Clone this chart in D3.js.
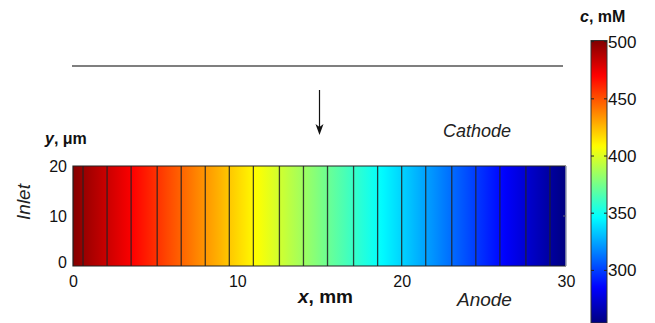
<!DOCTYPE html>
<html>
<head>
<meta charset="utf-8">
<script src="https://cdn.jsdelivr.net/npm/d3@7"></script>
<style>
  html, body { margin: 0; padding: 0; background: #fff; }
  svg { display: block; font-family: "Liberation Sans", Arial, Helvetica, sans-serif; }
</style>
</head>
<body>
<svg id="chart" width="655" height="323"></svg>
<script>
// ---- data ----
const xPoints = [0, 5, 10, 15, 20, 25, 30];            // x, mm
const cValues = [500, 459, 418, 377, 336, 295, 254];   // c, mM along channel
const contourLevels = [495, 483, 471, 458, 446, 434, 422, 410, 397, 385,
                       373, 360, 348, 336, 324, 311, 299, 287, 274, 262];
const xTicks = [0, 10, 20, 30];
const yTicks = [0, 10, 20];
const cTicks = [300, 350, 400, 450, 500];
const cMin = 254, cMax = 501;
const jetFractions = [0, 0.125, 0.375, 0.625, 0.875, 1];
const jetColors = ["#000080", "#0000ff", "#00ffff", "#ffff00", "#ff0000", "#800000"];

const svg = d3.select("#chart");
const font = '"Liberation Sans", Arial, Helvetica, sans-serif';

// ---- scales ----
const x = d3.scaleLinear().domain([0, 30]).range([73, 566]);
const y = d3.scaleLinear().domain([0, 20]).range([266, 166]);
const cAtX = d3.scaleLinear().domain(xPoints).range(cValues);
const xAtC = d3.scaleLinear().domain(cValues).range(xPoints);
const color = d3.scaleLinear()
  .domain(jetFractions.map(f => cMin + f * (cMax - cMin)))
  .range(jetColors)
  .interpolate(d3.interpolateRgb)
  .clamp(true);
const cb = d3.scaleLinear().domain([cMin, cMax]).range([323, 40.5]);

const defs = svg.append("defs");

// field gradient (horizontal)
const fg = defs.append("linearGradient").attr("id", "fieldGrad")
  .attr("x1", "0%").attr("x2", "100%").attr("y1", "0%").attr("y2", "0%");
d3.range(0, 101).forEach(i => {
  const xv = 30 * i / 100;
  fg.append("stop").attr("offset", i + "%").attr("stop-color", color(cAtX(xv)));
});

// colorbar gradient (vertical)
const cg = defs.append("linearGradient").attr("id", "cbGrad")
  .attr("x1", "0%").attr("x2", "0%").attr("y1", "0%").attr("y2", "100%");
d3.range(0, 101).forEach(i => {
  const v = cMax - (cMax - cMin) * i / 100;
  cg.append("stop").attr("offset", i + "%").attr("stop-color", color(v));
});

// ---- top electrode line ----
svg.append("line")
  .attr("x1", x(0) - 1).attr("x2", x(30) - 3)
  .attr("y1", 66).attr("y2", 66)
  .attr("stroke", "#555").attr("stroke-width", 1.6);

// ---- arrow ----
const ax = x(15);
svg.append("line").attr("x1", ax).attr("x2", ax).attr("y1", 90).attr("y2", 128)
  .attr("stroke", "#111").attr("stroke-width", 1.2);
svg.append("path")
  .attr("d", `M${ax - 4},${124} L${ax},${135} L${ax + 4},${124} L${ax},${127} Z`)
  .attr("fill", "#111");

// ---- field ----
svg.append("rect")
  .attr("x", x(0)).attr("y", y(20))
  .attr("width", x(30) - x(0)).attr("height", y(0) - y(20))
  .attr("fill", "url(#fieldGrad)");

// contour lines
svg.append("g").selectAll("line").data(contourLevels).join("line")
  .attr("x1", d => x(xAtC(d))).attr("x2", d => x(xAtC(d)))
  .attr("y1", y(20)).attr("y2", y(0))
  .attr("stroke", "#222").attr("stroke-opacity", 0.85).attr("stroke-width", 1.3);

// box
svg.append("path")
  .attr("d", `M${x(30)},${y(20)} H${x(0)} V${y(0)} H${x(30)}`)
  .attr("fill", "none").attr("stroke", "#222").attr("stroke-width", 1.2);
svg.append("line")
  .attr("x1", x(30)).attr("x2", x(30)).attr("y1", y(20)).attr("y2", y(0))
  .attr("stroke", "#9aa0b0").attr("stroke-width", 1.5);
// small inner ticks on right edge
svg.append("g").selectAll("line").data([10]).join("line")
  .attr("x1", x(30) - 3).attr("x2", x(30)).attr("y1", d => y(d)).attr("y2", d => y(d))
  .attr("stroke", "#667").attr("stroke-width", 1);

// ---- axes ----
const xAxis = svg.append("g").attr("transform", `translate(0,${y(0)})`)
  .call(d3.axisBottom(x).tickValues(xTicks).tickSize(0).tickPadding(10).tickFormat(d3.format("d")));
xAxis.select(".domain").remove();
xAxis.selectAll("text").attr("font-size", 16).attr("font-family", font).attr("fill", "#111");

const yAxis = svg.append("g").attr("transform", `translate(${x(0)},0)`)
  .call(d3.axisLeft(y).tickValues(yTicks).tickSize(0).tickPadding(6).tickFormat(d3.format("d")));
yAxis.select(".domain").remove();
yAxis.selectAll("text").attr("font-size", 16).attr("font-family", font).attr("fill", "#111");
yAxis.selectAll(".tick").filter(d => d === 0).select("text").attr("dy", "0.1em");

// ---- labels ----
const yl = svg.append("text").attr("x", 45).attr("y", 144)
  .attr("font-size", 16).attr("font-weight", "bold").attr("fill", "#111");
yl.append("tspan").attr("font-style", "italic").text("y");
yl.append("tspan").text(", μm");

const xl = svg.append("text").attr("x", 298).attr("y", 303)
  .attr("font-size", 19).attr("font-weight", "bold").attr("fill", "#111");
xl.append("tspan").attr("font-style", "italic").text("x");
xl.append("tspan").text(", mm");

svg.append("text").attr("transform", "translate(30,202) rotate(-90)")
  .attr("text-anchor", "middle").attr("font-size", 19).attr("font-style", "italic")
  .attr("fill", "#222").text("Inlet");

svg.append("text").attr("x", 443).attr("y", 137)
  .attr("font-size", 18).attr("font-style", "italic").attr("fill", "#222").text("Cathode");

svg.append("text").attr("x", 457).attr("y", 306)
  .attr("font-size", 19).attr("font-style", "italic").attr("fill", "#222").text("Anode");

// ---- colorbar ----
const cbX = 591, cbW = 16;
svg.append("rect").attr("x", cbX).attr("y", cb(cMax)).attr("width", cbW)
  .attr("height", cb(cMin) - cb(cMax)).attr("fill", "url(#cbGrad)")
  .attr("stroke", "#333").attr("stroke-width", 1);
const cbt = svg.append("g").selectAll("g").data(cTicks).join("g");
cbt.append("line").attr("x1", cbX).attr("x2", cbX + 3).attr("y1", d => cb(d)).attr("y2", d => cb(d))
  .attr("stroke", "#222").attr("stroke-width", 1);
cbt.append("line").attr("x1", cbX + cbW - 3).attr("x2", cbX + cbW).attr("y1", d => cb(d)).attr("y2", d => cb(d))
  .attr("stroke", "#222").attr("stroke-width", 1);
const cAxis = svg.append("g").attr("transform", `translate(${cbX + cbW},0)`)
  .call(d3.axisRight(cb).tickValues(cTicks).tickSize(0).tickPadding(1).tickFormat(d3.format("d")));
cAxis.select(".domain").remove();
cAxis.selectAll("text").attr("font-size", 17).attr("font-family", font).attr("fill", "#111");

const cl = svg.append("text").attr("x", 580).attr("y", 22)
  .attr("font-size", 16).attr("font-weight", "bold").attr("fill", "#111");
cl.append("tspan").attr("font-style", "italic").text("c");
cl.append("tspan").text(", mM");
</script>
</body>
</html>
